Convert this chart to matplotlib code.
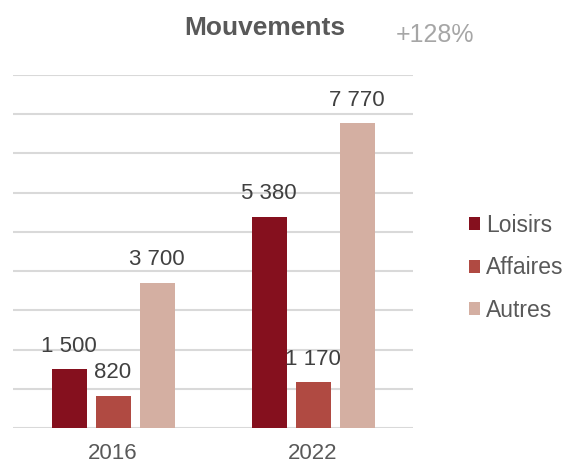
import matplotlib.pyplot as plt
import numpy as np

plt.rcParams["font.family"] = ["Liberation Sans", "DejaVu Sans"]

years = ["2016", "2022"]
series = ["Loisirs", "Affaires", "Autres"]
loisirs = [1500, 5380]
affaires = [820, 1170]
autres = [3700, 7770]
colors = ["#85101E", "#B04A42", "#D4AFA2"]


def fmt(v):
    return f"{v:,}".replace(",", " ")


fig = plt.figure(figsize=(5.68, 4.65), dpi=100)
ax = fig.add_axes([13 / 568, 37 / 465, 400 / 568, 353 / 465])

x = np.arange(len(years))
width = 0.175
step = 0.22
for i, (name, vals, col) in enumerate(zip(series, [loisirs, affaires, autres], colors)):
    pos = x + (i - 1) * step
    ax.bar(pos, vals, width=width, color=col, label=name, zorder=3)
    for p, v in zip(pos, vals):
        ax.annotate(fmt(v), (p, v), xytext=(0, 9), textcoords="offset points",
                    ha="center", va="bottom", fontsize=16, color="#404040")

ax.set_xlim(-0.5, 1.5)
ax.set_ylim(0, 9000)
ax.set_yticks(np.arange(0, 9001, 1000))
ax.yaxis.grid(True, color="#D9D9D9", linewidth=1.5, zorder=0)
ax.set_axisbelow(True)
ax.tick_params(axis="y", left=False, labelleft=False)
ax.tick_params(axis="x", bottom=False, labelsize=16, labelcolor="#595959", pad=7)
ax.set_xticks(x)
ax.set_xticklabels(years)
for s in ax.spines.values():
    s.set_visible(False)

fig.text(265 / 568, 1 - 28 / 465, "Mouvements", ha="center", va="center",
         fontsize=19, fontweight="bold", color="#595959")
fig.text(435 / 568, 1 - 35 / 465, "+128%", ha="center", va="center",
         fontsize=18, color="#A6A6A6")

leg = fig.legend(loc="center left", bbox_to_anchor=(469 / 568, 1 - 268 / 465),
                 frameon=False, fontsize=16.5, handlelength=0.5, handleheight=0.5,
                 handletextpad=0.25, labelspacing=0.85, borderpad=0,
                 borderaxespad=0)
for t in leg.get_texts():
    t.set_color("#595959")

fig.savefig("out.png", dpi=100)
